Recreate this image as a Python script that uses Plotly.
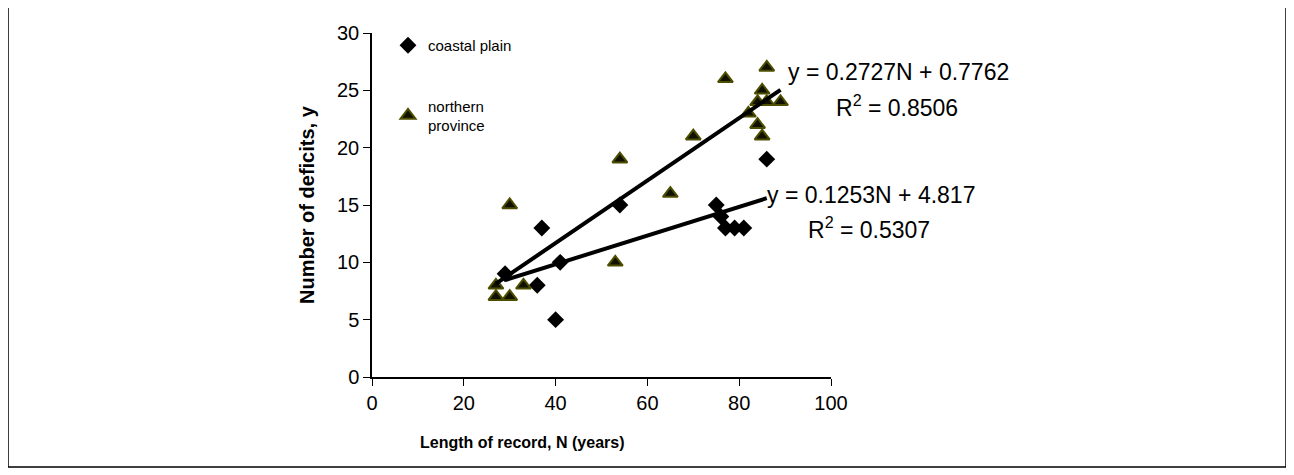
import numpy as np
import plotly.graph_objects as go

# Data
coastal_N = [29, 36, 37, 40, 41, 54, 75, 76, 77, 79, 81, 86]
coastal_y = [9, 8, 13, 5, 10, 15, 15, 14, 13, 13, 13, 19]

northern_N = [27, 27, 30, 30, 33, 53, 54, 65, 70, 77, 82, 84, 84, 85, 85, 86, 86, 89]
northern_y = [8, 7, 7, 15, 8, 10, 19, 16, 21, 26, 23, 22, 24, 21, 25, 27, 24, 24]

# Trendline equations shown on the chart
coastal_fit = (0.1253, 4.817, 0.5307)
northern_fit = (0.2727, 0.7762, 0.8506)

x_ticks = [0, 20, 40, 60, 80, 100]
y_ticks = [0, 5, 10, 15, 20, 25, 30]

FONT = "Arial, Liberation Sans, sans-serif"

# page offset of the plot div (browser body margin)
OFF = 8
W, H = 1294, 475
PL, PR, PT, PB = 372, 831, 33, 377  # plot area in screen pixels
L, R, T, B = PL - OFF, W - (PR - OFF), PT - OFF, H - (PB - OFF)
pw, ph = W - L - R, H - T - B


def px(sx):
    return (sx - PL) / pw


def py(sy):
    return (PB - sy) / ph


fig = go.Figure()

fig.add_trace(go.Scatter(
    x=coastal_N, y=coastal_y, mode="markers", name="coastal plain",
    legendgroup="a",
    marker=dict(symbol="diamond", size=13, color="#000000",
                line=dict(color="#000000", width=0)),
))
fig.add_trace(go.Scatter(
    x=northern_N, y=northern_y, mode="markers", name="northern<br>province",
    legendgroup="b",
    marker=dict(symbol="triangle-up", size=13, color="#111100",
                line=dict(color="#4d4d00", width=2)),
))


def trend(xs, fit):
    m, b, _ = fit
    xr = np.array([min(xs), max(xs)], dtype=float)
    return xr, m * xr + b


for xs, fit in ((northern_N, northern_fit), (coastal_N, coastal_fit)):
    xr, yr = trend(xs, fit)
    fig.add_trace(go.Scatter(x=xr, y=yr, mode="lines", showlegend=False,
                             line=dict(color="#000000", width=4),
                             hoverinfo="skip"))


def eq_text(fit):
    m, b, r2 = fit
    return f"y = {m:g}N + {b:g}", f"R<sup>2</sup> = {r2:.4f}"


n1, n2 = eq_text(northern_fit)
c1, c2 = eq_text(coastal_fit)
ann = []
for txt, sx, sy in ((n1, 786, 72), (n2, 834, 106), (c1, 765, 195), (c2, 806, 228)):
    ann.append(dict(text=txt, x=px(sx), y=py(sy), xref="paper", yref="paper",
                    showarrow=False, xanchor="left", yanchor="middle",
                    font=dict(family=FONT, size=23, color="#000000")))

ann.append(dict(text="<b>Length of record, N (years)</b>", x=px(522), y=py(443),
                xref="paper", yref="paper", showarrow=False,
                xanchor="center", yanchor="middle",
                font=dict(family=FONT, size=16, color="#000000")))
ann.append(dict(text="<b>Number of deficits, y</b>", x=px(307), y=py(205),
                xref="paper", yref="paper", showarrow=False, textangle=-90,
                xanchor="center", yanchor="middle",
                font=dict(family=FONT, size=20, color="#000000")))

shapes = [dict(type="rect", xref="paper", yref="paper",
               x0=px(8), x1=px(1286), y0=py(467), y1=py(7),
               line=dict(color="#000000", width=1.5), fillcolor="rgba(0,0,0,0)",
               layer="below")]

fig.update_layout(
    width=W, height=H,
    margin=dict(l=L, r=R, t=T, b=B, autoexpand=False),
    paper_bgcolor="white", plot_bgcolor="white",
    font=dict(family=FONT, size=16, color="#000000"),
    showlegend=True,
    legend=dict(x=px(388), y=py(29), xanchor="left", yanchor="top",
                bgcolor="rgba(0,0,0,0)", traceorder="grouped", tracegroupgap=38,
                itemwidth=30, font=dict(family=FONT, size=15, color="#000000")),
    xaxis=dict(range=[0, 100], tickvals=x_ticks, ticktext=[str(v) for v in x_ticks],
               showgrid=False, zeroline=False, showline=True, linecolor="#000000",
               linewidth=1.5, ticks="outside", ticklen=7, tickcolor="#000000",
               tickfont=dict(family=FONT, size=20), fixedrange=True),
    yaxis=dict(range=[0, 30], tickvals=y_ticks, ticktext=[str(v) for v in y_ticks],
               showgrid=False, zeroline=False, showline=True, linecolor="#000000",
               linewidth=1.5, ticks="outside", ticklen=7, tickcolor="#000000",
               tickfont=dict(family=FONT, size=20), fixedrange=True),
    annotations=ann,
    shapes=shapes,
)

fig.write_html("out.html")
